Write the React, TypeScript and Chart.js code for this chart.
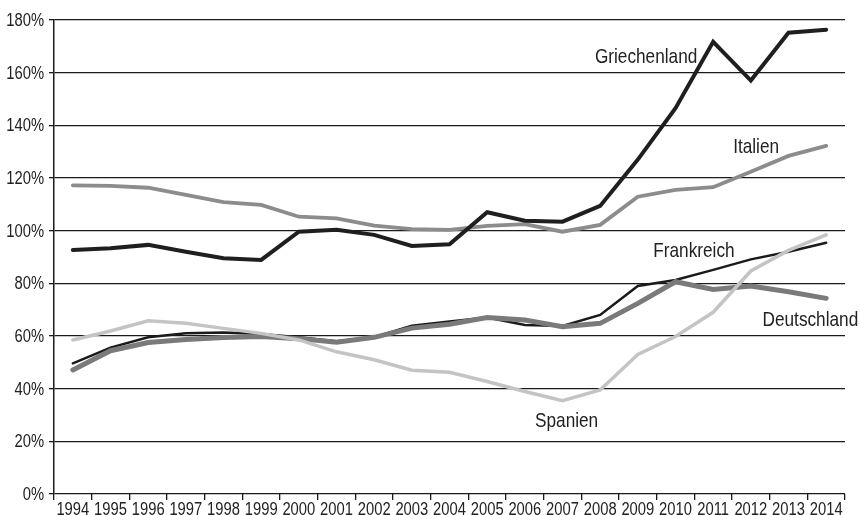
import React, { useEffect, useRef } from "react";
import { Chart, registerables } from "chart.js";

Chart.register(...registerables);

const years = ["1994","1995","1996","1997","1998","1999","2000","2001","2002","2003","2004","2005","2006","2007","2008","2009","2010","2011","2012","2013","2014"];

const griechenland = [92.7, 93.3, 94.6, 92, 89.5, 88.9, 99.6, 100.3, 98.4, 94.2, 94.8, 107, 103.8, 103.4, 109.4, 127, 146.5, 171.7, 157, 175.2, 176.3];
const italien = [117.2, 117, 116.3, 113.6, 110.8, 109.8, 105.3, 104.7, 101.9, 100.6, 100.3, 101.8, 102.5, 99.6, 102.2, 112.9, 115.5, 116.5, 122.4, 128.4, 132.2];
const frankreich = [49.6, 55.6, 59.5, 61, 61.3, 60.8, 59.5, 58, 59.5, 63.9, 65.5, 67, 64.2, 63.8, 68, 79, 81.3, 85.1, 89.1, 92, 95.4];
const deutschland = [47.1, 54.4, 57.5, 58.7, 59.4, 59.8, 59, 57.6, 59.5, 63, 64.5, 67, 66.1, 63.5, 64.8, 72.4, 80.6, 77.7, 79, 76.8, 74.3];
const spanien = [58.5, 61.9, 65.8, 64.8, 62.9, 61, 58.5, 54, 51, 47, 46.2, 42.7, 38.9, 35.4, 39.5, 53, 59.8, 69, 84.7, 92.5, 98.4];

const yTicks = [0, 20, 40, 60, 80, 100, 120, 140, 160, 180];

// annotation labels: text, category position (index units), value at baseline
const labelTexts = ["Griechenland", "Italien", "Frankreich", "Deutschland", "Spanien"];
const labelIndex = [13.86, 17.53, 15.41, 18.31, 12.27];
const labelValue = [163.6, 129.4, 90.1, 63.8, 25.6];

const FONT = '"Liberation Sans", Arial, sans-serif';
const NARROW = 0.82;

function narrowText(ctx: CanvasRenderingContext2D, t: string, x: number, y: number) {
  ctx.save();
  ctx.translate(x, y);
  ctx.scale(NARROW, 1);
  ctx.fillText(t, 0, 0);
  ctx.restore();
}

const labelPlugin = {
  id: "seriesLabels",
  afterDraw(chart: any) {
    const ctx: CanvasRenderingContext2D = chart.ctx;
    const xs = chart.scales.x;
    const ys = chart.scales.y;
    const step = xs.getPixelForValue(1) - xs.getPixelForValue(0);
    ctx.save();
    ctx.fillStyle = "#222";

    // y tick labels
    ctx.font = `18px ${FONT}`;
    ctx.textAlign = "right";
    ctx.textBaseline = "middle";
    ys.ticks.forEach((tk: any) => {
      narrowText(ctx, `${tk.value}%`, chart.chartArea.left - 10, ys.getPixelForValue(tk.value) + 1);
    });

    // x tick labels
    ctx.textAlign = "center";
    ctx.textBaseline = "alphabetic";
    years.forEach((yr, i) => {
      narrowText(ctx, yr, xs.getPixelForValue(i), chart.chartArea.bottom + 21);
    });

    // series labels
    ctx.font = `21px ${FONT}`;
    ctx.textAlign = "left";
    ctx.textBaseline = "alphabetic";
    labelTexts.forEach((t, i) => {
      const x = xs.getPixelForValue(0) + labelIndex[i] * step;
      const y = ys.getPixelForValue(labelValue[i]);
      narrowText(ctx, t, x, y);
    });
    ctx.restore();
  },
};

export default function App() {
  const ref = useRef<HTMLCanvasElement>(null);
  useEffect(() => {
    if (!ref.current) return;
    const mk = (label: string, data: number[], color: string, width: number) => ({
      label,
      data,
      borderColor: color,
      backgroundColor: color,
      borderWidth: width,
      pointRadius: 0,
      tension: 0,
      fill: false,
      borderCapStyle: "round" as const,
      borderJoinStyle: "miter" as const,
    });
    const chart = new Chart(ref.current, {
      type: "line",
      data: {
        labels: years,
        datasets: [
          mk("Griechenland", griechenland, "#1f1f1f", 4),
          mk("Spanien", spanien, "#c4c4c4", 3.5),
          mk("Italien", italien, "#8c8c8c", 3.8),
          mk("Deutschland", deutschland, "#7a7a7a", 5),
          mk("Frankreich", frankreich, "#1a1a1a", 2.5),
        ],
      },
      options: {
        animation: false,
        responsive: false,
        maintainAspectRatio: false,
        layout: { padding: { left: 0, right: 15, top: 20, bottom: 0 } },
        plugins: {
          legend: { display: false },
          tooltip: { enabled: false },
        },
        scales: {
          x: {
            type: "category",
            offset: true,
            grid: {
              offset: true,
              drawOnChartArea: false,
              drawTicks: true,
              tickLength: 6,
              color: "#1a1a1a",
              lineWidth: 1.3,
            },
            border: { display: false },
            ticks: { display: false, autoSkip: false },
            afterFit(scale: any) {
              scale.height = 21;
            },
          },
          y: {
            min: 0,
            max: 180,
            afterBuildTicks(scale: any) {
              scale.ticks = yTicks.map((v) => ({ value: v }));
            },
            grid: {
              color: "#1a1a1a",
              lineWidth: 1.3,
              drawTicks: true,
              tickLength: 5,
            },
            border: { display: true, color: "#1a1a1a", width: 1.5 },
            ticks: { display: false },
            afterFit(scale: any) {
              scale.width = 54;
            },
          },
        },
      },
      plugins: [labelPlugin],
    });
    return () => chart.destroy();
  }, []);
  return (
    <div style={{ position: "absolute", left: 0, top: 0, width: 860, height: 515, background: "#fff" }}>
      <canvas ref={ref} width={860} height={515} style={{ width: 860, height: 515 }} />
    </div>
  );
}
